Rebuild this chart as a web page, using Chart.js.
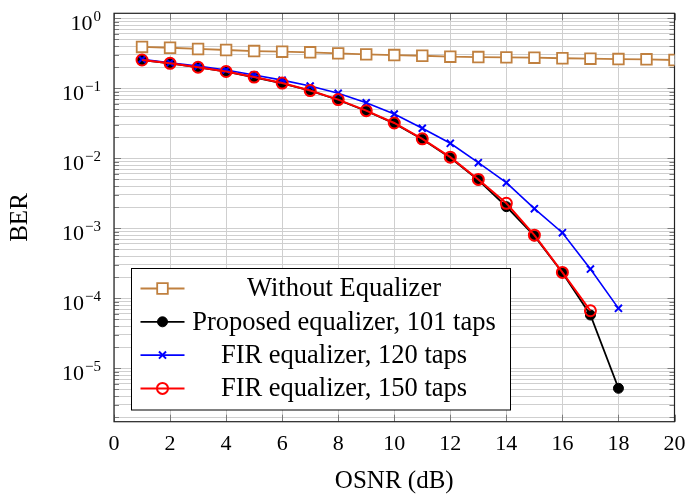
<!DOCTYPE html>
<html>
<head>
<meta charset="utf-8">
<script src="https://cdn.jsdelivr.net/npm/chart.js@4.4.1/dist/chart.umd.min.js"></script>
<style>
  html, body { margin: 0; padding: 0; background: #fff; }
  #wrap { width: 687px; height: 499px; }
</style>
</head>
<body>
<div id="wrap"><canvas id="berChart" width="687" height="499"></canvas></div>
<script>
// OSNR points (dB)
const osnr = [1, 2, 3, 4, 5, 6, 7, 8, 9, 10, 11, 12, 13, 14, 15, 16, 17, 18, 19, 20];

// BER curves
const berNoEq = [0.39, 0.38, 0.365, 0.353, 0.341, 0.334, 0.327, 0.316, 0.306, 0.299,
                 0.292, 0.283, 0.28, 0.277, 0.274, 0.269, 0.265, 0.262, 0.26, 0.254];
const berProposed = [0.254, 0.228, 0.2, 0.173, 0.144, 0.118, 0.0925, 0.0682, 0.0475, 0.0316,
                     0.0187, 0.0102, 0.0049, 0.00204, 7.8e-4, 2.32e-4, 5.78e-5, 5.19e-6];
const berFir120 = [0.26, 0.232, 0.208, 0.183, 0.155, 0.131, 0.108, 0.085, 0.0623, 0.043,
                   0.0269, 0.0164, 0.00867, 0.00449, 0.00191, 8.67e-4, 2.62e-4, 7.2e-5];
const berFir150 = [0.254, 0.228, 0.2, 0.174, 0.145, 0.119, 0.093, 0.069, 0.048, 0.032,
                   0.019, 0.0104, 0.005, 0.00228, 8.0e-4, 2.35e-4, 6.65e-5];

const seriesLabels = ['Without Equalizer', 'Proposed equalizer, 101 taps',
                      'FIR equalizer, 120 taps', 'FIR equalizer, 150 taps'];
const xTicks = [0, 2, 4, 6, 8, 10, 12, 14, 16, 18, 20];
const yDecades = [0, -1, -2, -3, -4, -5];

const FONT = '"Liberation Serif", "Times New Roman", serif';

function pts(vals) {
  return vals.map((v, i) => ({ x: osnr[i], y: v }));
}

const ctx = document.getElementById('berChart').getContext('2d');

// frame, inside tick marks, y labels with exponents, boxed legend
const decor = {
  id: 'decor',
  beforeDatasetsDraw(chart) {
    const { ctx, chartArea: a, scales: { x, y } } = chart;
    ctx.save();
    ctx.strokeStyle = '#7a7a7a';
    ctx.lineWidth = 1;
    ctx.beginPath();
    y.ticks.forEach(t => {
      const py = Math.round(y.getPixelForValue(t.value)) + 0.5;
      const len = t.major ? 7 : 5;
      ctx.moveTo(a.left, py); ctx.lineTo(a.left + len, py);
      ctx.moveTo(a.right - len, py); ctx.lineTo(a.right, py);
    });
    x.ticks.forEach(t => {
      const px = Math.round(x.getPixelForValue(t.value)) + 0.5;
      ctx.moveTo(px, a.bottom); ctx.lineTo(px, a.bottom - 7);
      ctx.moveTo(px, a.top); ctx.lineTo(px, a.top + 7);
    });
    ctx.stroke();
    ctx.strokeStyle = '#222';
    ctx.lineWidth = 1.2;
    ctx.strokeRect(a.left, a.top, a.right - a.left, a.bottom - a.top);
    ctx.restore();
  },
  afterDraw(chart) {
    const { ctx, scales: { y } } = chart;
    ctx.save();
    ctx.fillStyle = '#000';
    ctx.textBaseline = 'alphabetic';
    ctx.textAlign = 'right';
    const rightX = 101;
    yDecades.forEach(e => {
      const py = y.getPixelForValue(Math.pow(10, e));
      const sup = e === 0 ? '0' : '\u2212' + (-e);
      ctx.font = '15px ' + FONT;
      const w = ctx.measureText(sup).width;
      ctx.fillText(sup, rightX, py + 2.5);
      ctx.font = '22px ' + FONT;
      ctx.fillText('10', rightX - w - 1, py + 11.7);
    });

    // legend box
    const bx = 131.5, by = 268.5, bw = 379, bh = 141.5;
    ctx.fillStyle = '#fff';
    ctx.fillRect(bx, by, bw, bh);
    ctx.strokeStyle = '#000';
    ctx.lineWidth = 1;
    ctx.strokeRect(bx, by, bw, bh);
    ctx.font = '26.5px ' + FONT;
    ctx.textAlign = 'center';
    ctx.textBaseline = 'middle';
    chart.data.datasets.forEach((ds, i) => {
      const ry = by + 20 + i * 33.3;
      ctx.strokeStyle = ds.borderColor;
      ctx.lineWidth = ds.borderWidth;
      ctx.beginPath();
      ctx.moveTo(bx + 9, ry); ctx.lineTo(bx + 53, ry);
      ctx.stroke();
      drawMark(ctx, ds, bx + 31, ry);
      ctx.fillStyle = '#000';
      ctx.fillText(ds.label, 344, ry + 1);
    });
    ctx.restore();
  }
};

function drawMark(ctx, ds, cx, cy) {
  const r = ds.pointRadius;
  ctx.save();
  ctx.lineWidth = ds.pointBorderWidth;
  ctx.strokeStyle = ds.pointBorderColor;
  ctx.fillStyle = ds.pointBackgroundColor;
  ctx.beginPath();
  if (ds.pointStyle === 'rect') {
    const s = r * Math.SQRT1_2;
    ctx.rect(cx - s, cy - s, 2 * s, 2 * s);
    ctx.fill(); ctx.stroke();
  } else if (ds.pointStyle === 'crossRot') {
    const s = r * Math.SQRT1_2;
    ctx.moveTo(cx - s, cy - s); ctx.lineTo(cx + s, cy + s);
    ctx.moveTo(cx + s, cy - s); ctx.lineTo(cx - s, cy + s);
    ctx.stroke();
  } else {
    ctx.arc(cx, cy, r, 0, Math.PI * 2);
    ctx.fill(); ctx.stroke();
  }
  ctx.restore();
}

const config = {
  type: 'line',
  data: {
    datasets: [{
      label: seriesLabels[0],
      data: pts(berNoEq),
      borderColor: '#c0803f',
      borderWidth: 1.8,
      pointStyle: 'rect',
      pointRadius: 7.5,
      pointBorderWidth: 1.8,
      pointBorderColor: '#c0803f',
      pointBackgroundColor: '#ffffff',
      order: 4
    }, {
      label: seriesLabels[1],
      data: pts(berProposed),
      borderColor: '#000000',
      borderWidth: 1.8,
      pointStyle: 'circle',
      pointRadius: 5,
      pointBorderWidth: 1,
      pointBorderColor: '#000000',
      pointBackgroundColor: '#000000',
      order: 3
    }, {
      label: seriesLabels[2],
      data: pts(berFir120),
      borderColor: '#0000ff',
      borderWidth: 1.6,
      pointStyle: 'crossRot',
      pointRadius: 5,
      pointBorderWidth: 2,
      pointBorderColor: '#0000ff',
      pointBackgroundColor: '#0000ff',
      order: 2
    }, {
      label: seriesLabels[3],
      data: pts(berFir150),
      borderColor: '#ff0000',
      borderWidth: 2,
      pointStyle: 'circle',
      pointRadius: 5.5,
      pointBorderWidth: 2,
      pointBorderColor: '#ff0000',
      pointBackgroundColor: 'rgba(0,0,0,0)',
      order: 1
    }]
  },
  options: {
    responsive: false,
    animation: false,
    layout: { padding: { top: 13.3, right: 12.5, left: 0, bottom: 0 } },
    scales: {
      x: {
        type: 'linear',
        min: 0,
        max: 20,
        afterBuildTicks: (scale) => { scale.ticks = xTicks.map(v => ({ value: v })); },
        afterFit: (scale) => {
          scale.height = 77.3;
          scale.paddingLeft = 0;
          scale.paddingRight = 0;
        },
        ticks: {
          autoSkip: false,
          color: '#000',
          padding: 9,
          maxRotation: 0,
          font: { family: FONT, size: 22 }
        },
        grid: { color: '#cfcfcf', lineWidth: 1, drawTicks: false },
        border: { display: false },
        title: {
          display: true,
          text: 'OSNR (dB)',
          color: '#000',
          font: { family: FONT, size: 25 },
          padding: { top: 0, bottom: 3 }
        }
      },
      y: {
        type: 'logarithmic',
        min: 1.73e-6,
        max: 1.18,
        afterBuildTicks: (scale) => {
          const list = [];
          for (let e = -6; e <= 0; e++) {
            for (let m = 1; m <= 9; m++) {
              const v = m * Math.pow(10, e);
              if (v >= scale.min && v <= scale.max) list.push({ value: v, major: m === 1 });
            }
          }
          scale.ticks = list;
        },
        afterFit: (scale) => {
          scale.width = 114;
          scale.paddingTop = 0;
          scale.paddingBottom = 0;
        },
        ticks: { display: false, autoSkip: false },
        grid: { color: '#cfcfcf', lineWidth: 1, drawTicks: false },
        border: { display: false },
        title: {
          display: true,
          text: 'BER',
          color: '#000',
          font: { family: FONT, size: 25 },
          padding: { top: 5, bottom: 0 }
        }
      }
    },
    plugins: {
      legend: { display: false },
      tooltip: { enabled: false }
    }
  },
  plugins: [decor]
};

const berChart = new Chart(ctx, config);
</script>
</body>
</html>
